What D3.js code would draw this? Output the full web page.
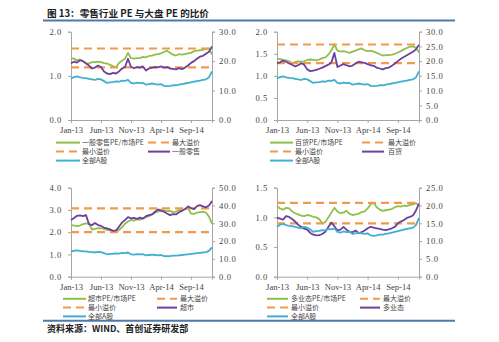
<!DOCTYPE html>
<html><head><meta charset="utf-8">
<script src="https://cdn.jsdelivr.net/npm/d3@7"></script>
<style>
html,body{margin:0;padding:0;background:#fff;}
svg{display:block;}
</style></head>
<body>
<svg id="chart" width="499" height="342"></svg>
<script>
// ---------------- DATA ----------------
// half-monthly observations, Jan-2013 .. Dec-2014 (48 points)
const xTickLabels = ["Jan-13","Jun-13","Nov-13","Apr-14","Sep-14"];
const xTickIndex  = [0, 10, 20, 30, 40];

// 全部A股 PE (shared by all panels, right axis)
const allA = [14.0,14.6,14.8,14.5,14.3,14.2,14.0,13.8,13.6,14.0,13.8,13.2,12.6,12.8,12.9,13.1,13.0,13.4,13.3,13.6,12.6,12.4,12.7,12.5,12.6,12.0,12.2,12.4,12.2,12.0,12.2,11.6,11.5,11.6,11.8,11.8,12.0,12.2,12.4,12.6,12.8,13.0,13.2,13.4,13.6,13.8,14.5,16.5];

// 一般零售
const retailRatio = [1.40,1.39,1.35,1.37,1.33,1.29,1.28,1.31,1.31,1.32,1.31,1.29,1.28,1.25,1.22,1.19,1.29,1.34,1.39,1.52,1.40,1.39,1.40,1.40,1.43,1.42,1.45,1.46,1.48,1.49,1.51,1.54,1.57,1.52,1.48,1.46,1.49,1.48,1.49,1.51,1.52,1.56,1.57,1.58,1.59,1.61,1.62,1.48];
const retailPE = [19.3,19.8,19.5,20.3,20.0,19.2,18.5,17.5,17.8,18.5,18.0,16.5,15.8,15.6,16.0,15.8,16.5,17.5,18.0,20.8,18.0,17.6,18.0,17.8,18.2,16.8,17.5,17.8,18.0,17.9,18.2,17.8,18.0,17.5,17.4,17.2,17.6,17.3,17.8,18.5,19.4,20.0,20.8,21.5,21.8,22.5,23.2,25.0];

// 百货
const deptRatio = [1.39,1.38,1.36,1.35,1.33,1.29,1.31,1.33,1.32,1.33,1.36,1.37,1.36,1.35,1.37,1.40,1.42,1.48,1.58,1.71,1.57,1.55,1.56,1.54,1.52,1.55,1.57,1.60,1.62,1.58,1.56,1.57,1.55,1.52,1.49,1.46,1.47,1.47,1.48,1.50,1.53,1.56,1.60,1.63,1.66,1.67,1.63,1.53];
const deptPE = [19.3,19.6,20.2,19.8,19.2,18.8,18.2,18.6,19.3,18.8,17.2,16.6,16.8,17.0,17.4,17.8,18.3,18.8,19.5,22.8,18.0,18.5,19.0,18.6,18.2,18.5,19.2,19.8,19.6,19.4,19.0,18.6,18.4,17.8,17.5,17.2,17.6,17.8,18.4,19.2,20.0,20.8,21.4,22.0,22.6,23.2,24.0,25.6];

// 超市
const marketRatio = [2.33,2.30,2.27,2.30,2.36,2.40,2.38,2.12,2.15,2.18,2.17,2.15,2.10,2.08,2.04,2.00,2.10,2.22,2.38,2.48,2.55,2.52,2.58,2.56,2.62,2.68,2.72,2.80,2.88,2.92,3.02,2.98,2.95,2.96,2.90,2.93,3.00,2.96,3.04,3.07,2.84,2.82,2.88,2.90,2.92,2.88,2.70,2.38];
const marketPE = [31.9,33.0,34.2,34.5,34.0,34.6,29.5,29.0,30.2,29.0,28.5,27.6,27.2,26.6,25.8,26.0,28.0,30.5,31.8,33.5,32.8,33.0,32.5,33.2,32.6,34.0,34.6,35.0,36.5,37.8,37.0,36.5,35.5,34.6,35.2,35.0,36.2,37.0,38.0,39.5,38.6,38.0,39.6,40.2,39.5,39.0,40.0,42.5];

// 多业态
const multiRatio = [1.19,1.15,1.13,1.16,1.15,1.10,1.07,1.05,1.03,1.02,1.04,1.03,1.01,1.00,0.97,0.90,0.92,1.00,1.08,1.16,1.10,1.07,1.08,1.11,1.06,1.04,1.05,1.06,1.09,1.10,1.15,1.22,1.245,1.17,1.13,1.11,1.12,1.13,1.14,1.17,1.19,1.18,1.20,1.19,1.21,1.22,1.24,1.20];
const multiPE = [16.6,16.3,16.0,17.0,16.8,16.2,15.5,14.6,14.0,13.5,13.2,12.3,11.8,11.6,11.7,12.0,12.6,14.0,15.2,14.2,13.0,13.2,14.0,13.2,12.6,12.5,13.0,12.2,12.5,13.0,13.6,14.0,13.8,13.6,13.4,13.2,13.1,13.3,13.6,14.0,15.0,15.5,15.9,16.5,16.8,17.2,18.6,20.5];

// premium bands (left axis)
const premiumMax = [1.62, 1.71, 3.07, 1.245];
const premiumMin = [1.19, 1.29, 2.00, 0.90];

const ratioNames = ["一般零售PE/市场PE","百货PE/市场PE","超市PE/市场PE","多业态PE/市场PE"];
const sectorNames = ["一般零售","百货","超市","多业态"];
const maxName = "最大溢价", minName = "最小溢价", allAName = "全部A股";

const leftTicks  = [[0,1,2],[0,0.5,1,1.5,2],[0,1,2,3,4],[0,0.5,1,1.5]];
const rightTicks = [[0,10,20,30],[0,5,10,15,20,25,30],[0,10,20,30,40,50],[0,5,10,15,20,25]];

const ratios = [retailRatio, deptRatio, marketRatio, multiRatio];
const sectorPE = [retailPE, deptPE, marketPE, multiPE];

const titleText = "图 13：零售行业 PE 与大盘 PE 的比价";
const sourceText = "资料来源：WIND、首创证券研发部";

// ---------------- LAYOUT / STYLE ----------------
const C = {green:"#8fbf4c", orange:"#f29a4a", purple:"#6f3f9e", cyan:"#3fb0cf", axis:"#a6a6a6", text:"#444", rule:"#4f79ad"};
const layout = [
  {x0:71, x1:212, y0:31.7, y1:120, leg:[142.6,151.6,160.6], c1:[56,80,82],  c2:[148,170,172]},
  {x0:277,x1:419, y0:31.7, y1:120, leg:[142.6,151.6,160.6], c1:[270,293,295],c2:[362,384,388]},
  {x0:71, x1:212, y0:187.7,y1:276.7,leg:[298.8,307.6,316.4],c1:[63,86,88],  c2:[157,177,180]},
  {x0:277,x1:419, y0:187.7,y1:276.7,leg:[298.8,307.6,316.4],c1:[267,288,291],c2:[360,380,383]}
];
const serif = "'Liberation Serif','Times New Roman',serif";
const cjk = "'Noto Sans CJK SC','Noto Sans',sans-serif";

const svg = d3.select("#chart");
svg.append("rect").attr("width",499).attr("height",342).attr("fill","#fff");

// title & rules
svg.append("text").attr("x",47).attr("y",16.5).attr("font-family",cjk).attr("font-size",9.6)
  .attr("font-weight","bold").attr("fill","#222").text(titleText);
svg.append("line").attr("x1",43).attr("x2",455).attr("y1",20.5).attr("y2",20.5).attr("stroke",C.rule).attr("stroke-width",2);
svg.append("line").attr("x1",43).attr("x2",455).attr("y1",320.7).attr("y2",320.7).attr("stroke",C.rule).attr("stroke-width",2);
svg.append("text").attr("x",47).attr("y",331.5).attr("font-family",cjk).attr("font-size",9)
  .attr("font-weight","bold").attr("fill","#222").text(sourceText);

const fmt = d3.format(".1f");
const n = allA.length;

layout.forEach((L, p) => {
  const g = svg.append("g");
  const x = d3.scaleLinear().domain([0, n-1]).range([L.x0, L.x1]);
  const lt = leftTicks[p], rt = rightTicks[p];
  const yL = d3.scaleLinear().domain([0, lt[lt.length-1]]).range([L.y1, L.y0]);
  const yR = d3.scaleLinear().domain([0, rt[rt.length-1]]).range([L.y1, L.y0]);

  // axes
  const ax = g.append("g").attr("transform",`translate(0,${L.y1})`)
    .call(d3.axisBottom(x).tickValues(xTickIndex).tickFormat((d,i)=>xTickLabels[i]).tickSize(3).tickPadding(4));
  const al = g.append("g").attr("transform",`translate(${L.x0},0)`)
    .call(d3.axisLeft(yL).tickValues(lt).tickFormat(fmt).tickSize(3).tickPadding(6));
  const ar = g.append("g").attr("transform",`translate(${L.x1},0)`)
    .call(d3.axisRight(yR).tickValues(rt).tickFormat(fmt).tickSize(3).tickPadding(4));
  [ax,al,ar].forEach(a=>{
    a.select(".domain").attr("stroke",C.axis).attr("stroke-width",1);
    a.selectAll(".tick line").attr("stroke",C.axis);
    a.selectAll("text").attr("font-family",serif).attr("font-size",8.6).attr("fill",C.text);
  });
  al.selectAll("text").attr("letter-spacing",0.6);
  ar.selectAll("text").attr("letter-spacing",0.6);

  const lineL = d3.line().x((d,i)=>x(i)).y(d=>yL(d));
  const lineR = d3.line().x((d,i)=>x(i)).y(d=>yR(d));

  // ratio
  g.append("path").datum(ratios[p]).attr("d",lineL).attr("fill","none")
    .attr("stroke",C.green).attr("stroke-width",1.8).attr("stroke-linejoin","round");
  // premium bands
  [premiumMax[p], premiumMin[p]].forEach(v=>{
    g.append("line").attr("x1",L.x0).attr("x2",L.x1).attr("y1",yL(v)).attr("y2",yL(v))
      .attr("stroke",C.orange).attr("stroke-width",2.2).attr("stroke-dasharray","8,5");
  });
  // sector PE
  g.append("path").datum(sectorPE[p]).attr("d",lineR).attr("fill","none")
    .attr("stroke",C.purple).attr("stroke-width",1.8).attr("stroke-linejoin","round");
  // all A
  g.append("path").datum(allA).attr("d",lineR).attr("fill","none")
    .attr("stroke",C.cyan).attr("stroke-width",1.8).attr("stroke-linejoin","round");

  // legend
  const items = [
    {col:L.c1,row:0,color:C.green, dash:null, label:ratioNames[p]},
    {col:L.c2,row:0,color:C.orange,dash:"8,5",label:maxName},
    {col:L.c1,row:1,color:C.orange,dash:"8,5",label:minName},
    {col:L.c2,row:1,color:C.purple,dash:null, label:sectorNames[p]},
    {col:L.c1,row:2,color:C.cyan,  dash:null, label:allAName}
  ];
  items.forEach(it=>{
    const yy = L.leg[it.row];
    g.append("line").attr("x1",it.col[0]).attr("x2",it.col[1]).attr("y1",yy).attr("y2",yy)
      .attr("stroke",it.color).attr("stroke-width",2).attr("stroke-dasharray",it.dash);
    g.append("text").attr("x",it.col[2]).attr("y",yy+2.5).attr("font-family",cjk)
      .attr("font-size",7).attr("fill",C.text).text(it.label);
  });
});
</script>
</body></html>
